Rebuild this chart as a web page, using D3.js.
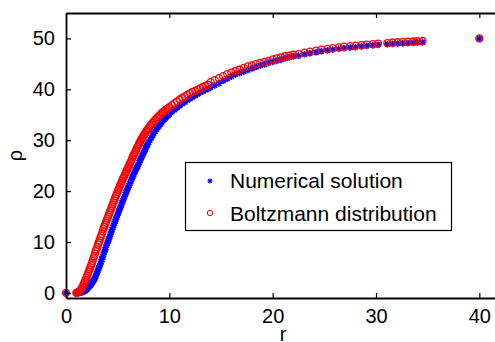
<!DOCTYPE html>
<html>
<head>
<meta charset="utf-8">
<script src="https://cdn.jsdelivr.net/npm/d3@7"></script>
<style>
  body { margin: 0; background: #fff; }
  svg { display: block; font-family: "Liberation Sans", Arial, sans-serif; }
</style>
</head>
<body>
<svg id="chart" width="495" height="342"></svg>
<script>
// radial positions (shared by both series)
const rValues = [
  0,
  1.0, 1.15, 1.3, 1.45, 1.6, 1.75, 1.9, 2.05, 2.2, 2.35, 2.5, 2.65, 2.8, 2.95,
  3.1, 3.25, 3.4, 3.55, 3.7, 3.85, 4.0, 4.15, 4.3, 4.45, 4.6, 4.75, 4.9, 5.05,
  5.2, 5.35, 5.5, 5.65, 5.8, 5.95, 6.1, 6.25, 6.4, 6.55, 6.7, 6.85, 7.0, 7.15,
  7.3, 7.45, 7.6, 7.75, 7.9, 8.0, 8.25, 8.5, 8.75, 9.0, 9.25, 9.5, 9.75, 10.0,
  10.25, 10.5, 10.75, 11.0, 11.25, 11.5, 11.75, 12.0, 12.25, 12.5, 12.75, 13.0,
  13.25, 13.5, 13.75, 14.0, 14.4, 14.8, 15.2, 15.6, 16.0, 16.4, 16.8, 17.2,
  17.6, 18.0, 18.4, 18.8, 19.2, 19.6, 20.0, 20.4, 20.8, 21.2, 21.6, 22.0,
  22.5, 23.1, 23.6, 24.2, 24.7, 25.3, 25.8, 26.4, 26.9, 27.5, 28.0, 28.6,
  29.1, 29.7, 30.2, 31.1, 31.6, 32.1, 32.6, 33.1, 33.6, 34.0, 34.5,
  40
];

// numerical solution (blue asterisks)
const rhoNumerical = [
  0,
  0.0, 0.0, 0.05, 0.1, 0.2, 0.35, 0.5, 0.8, 1.2, 1.5, 1.9, 2.4, 2.9, 3.7,
  4.5, 5.3, 6.1, 7.1, 8.0, 8.9, 9.8, 10.6, 11.5, 12.4, 13.3, 14.1, 14.9, 15.7,
  16.5, 17.3, 18.1, 18.9, 19.7, 20.4, 21.1, 21.9, 22.6, 23.3, 24.0, 24.6, 25.2, 26.0,
  26.6, 27.3, 27.9, 28.6, 29.2, 29.6, 30.5, 31.4, 32.1, 32.8, 33.5, 34.1, 34.6, 35.1,
  35.6, 36.0, 36.4, 36.8, 37.2, 37.5, 37.9, 38.2, 38.5, 38.8, 39.1, 39.4,
  39.6, 39.9, 40.1, 40.4, 40.8, 41.2, 41.7, 42.1, 42.5, 42.9, 43.2, 43.5,
  43.8, 44.1, 44.4, 44.7, 44.9, 45.2, 45.4, 45.6, 45.8, 46.1, 46.3, 46.5,
  46.6, 46.9, 47.1, 47.3, 47.5, 47.65, 47.8, 47.95, 48.1, 48.2, 48.3, 48.45,
  48.55, 48.65, 48.75, 48.9, 48.95, 49.0, 49.05, 49.1, 49.15, 49.2, 49.25,
  50
];

// Boltzmann distribution (red circles)
const rhoBoltzmann = [
  0,
  0.0, 0.1, 0.3, 0.65, 1.2, 1.9, 2.6, 3.4, 4.2, 5.0, 5.8, 6.8, 7.7, 8.6,
  9.5, 10.3, 11.2, 12.1, 13.0, 13.8, 14.6, 15.4, 16.2, 17.0, 17.8, 18.6, 19.4, 20.2,
  20.9, 21.6, 22.4, 23.0, 23.7, 24.4, 25.0, 25.7, 26.4, 27.1, 27.7, 28.4, 29.0, 29.6,
  30.2, 30.7, 31.2, 31.7, 32.1, 32.4, 33.1, 33.7, 34.3, 34.8, 35.3, 35.7, 36.1, 36.5,
  36.9, 37.3, 37.6, 38.0, 38.3, 38.6, 38.9, 39.2, 39.5, 39.7, 40.0, 40.2,
  40.5, 40.7, 40.9, 41.4, 41.8, 42.2, 42.6, 43.0, 43.3, 43.6, 43.9, 44.2,
  44.5, 44.7, 45.0, 45.2, 45.4, 45.6, 45.9, 46.1, 46.3, 46.5, 46.6, 46.8,
  46.9, 47.2, 47.4, 47.6, 47.8, 47.95, 48.1, 48.25, 48.4, 48.5, 48.6, 48.7,
  48.8, 48.9, 49.0, 49.1, 49.2, 49.25, 49.3, 49.35, 49.4, 49.45, 49.5,
  50
];

// extra samples in the dense, steep part of the profile
const rExtra = [
  1.075, 1.225, 1.375, 1.525, 1.675, 1.825, 1.975, 2.125, 2.275, 2.425, 2.575, 2.725,
  2.875, 3.025, 3.175, 3.325, 3.475, 3.625, 3.775, 3.925, 4.075, 4.225, 4.375, 4.525,
  4.675, 4.825, 4.975, 5.125, 5.275, 5.425, 5.575, 5.725, 5.875, 6.025, 6.175, 6.325,
  6.475, 6.625, 6.775, 6.925, 7.075, 7.225, 7.375, 7.525, 7.675, 7.825,
  8.125, 8.375, 8.625, 8.875, 9.125, 9.375, 9.625, 9.875
];
const rhoNumericalExtra = [
  0.0, 0.02, 0.08, 0.15, 0.27, 0.42, 0.65, 1.0, 1.35, 1.7, 2.15, 2.65,
  3.3, 4.1, 4.9, 5.7, 6.6, 7.55, 8.45, 9.35, 10.2, 11.05, 11.95, 12.85,
  13.7, 14.5, 15.3, 16.1, 16.9, 17.7, 18.5, 19.3, 20.05, 20.75, 21.5, 22.25,
  22.95, 23.65, 24.3, 24.9, 25.6, 26.3, 26.95, 27.6, 28.25, 28.9,
  30.05, 30.95, 31.75, 32.45, 33.15, 33.8, 34.35, 34.85
];
const rhoBoltzmannExtra = [
  0.05, 0.2, 0.45, 0.9, 1.55, 2.25, 3.0, 3.8, 4.6, 5.4, 6.3, 7.2,
  8.2, 9.0, 9.9, 10.8, 11.6, 12.6, 13.4, 14.2, 15.0, 15.8, 16.6, 17.4,
  18.2, 19.0, 19.8, 20.5, 21.3, 22.0, 22.7, 23.4, 24.0, 24.7, 25.4, 26.0,
  26.8, 27.4, 28.0, 28.7, 29.3, 29.9, 30.4, 31.0, 31.4, 31.9,
  32.8, 33.4, 34.0, 34.5, 35.0, 35.5, 35.9, 36.3
];

const xTicks = [0, 10, 20, 30, 40];
const yTicks = [0, 10, 20, 30, 40, 50];
const legendLabels = ['Numerical solution', 'Boltzmann distribution'];

const svg = d3.select('#chart');
const mLeft = 66, mRight = 500, mTop = 13, mBottom = 298;

const x = d3.scaleLinear().domain([0, 42]).range([mLeft, mRight]);
const y = d3.scaleLinear().domain([-1, 55]).range([mBottom, mTop]);

// asterisk path (MATLAB-like '*')
function asterisk(s) {
  const d = s * 0.72;
  return `M${-s},0L${s},0M0,${-s}L0,${s}M${-d},${-d}L${d},${d}M${-d},${d}L${d},${-d}`;
}

// data points
const allR = rValues.concat(rExtra);
const allNum = rhoNumerical.concat(rhoNumericalExtra);
const allBol = rhoBoltzmann.concat(rhoBoltzmannExtra);
const pts = allR.map((r, i) => ({ r, num: allNum[i], bol: allBol[i] }));

svg.append('g')
  .selectAll('path')
  .data(pts)
  .enter()
  .append('path')
  .attr('transform', d => `translate(${x(d.r)},${y(d.num)})`)
  .attr('d', asterisk(3.4))
  .attr('stroke', '#0000ff')
  .attr('stroke-width', 1.5)
  .attr('fill', 'none');

svg.append('g')
  .selectAll('circle')
  .data(pts)
  .enter()
  .append('circle')
  .attr('cx', d => x(d.r))
  .attr('cy', d => y(d.bol))
  .attr('r', 3.5)
  .attr('stroke', '#ff0000')
  .attr('stroke-width', 1.3)
  .attr('fill', 'none');

// axes with inward ticks
const styleAxis = g => {
  g.select('.domain').attr('stroke', '#000').attr('stroke-width', 1.8);
  g.selectAll('.tick line').attr('stroke', '#000').attr('stroke-width', 1.2);
  g.selectAll('.tick text').attr('fill', '#000').style('font-size', '20px');
};

svg.append('g')
  .attr('transform', `translate(0,${mBottom})`)
  .call(d3.axisBottom(x).tickValues(xTicks).tickSize(-5).tickSizeOuter(0).tickPadding(11))
  .call(styleAxis);

svg.append('g')
  .attr('transform', `translate(0,${mTop})`)
  .call(d3.axisTop(x).tickValues(xTicks).tickSize(-5).tickSizeOuter(0).tickFormat(''))
  .call(styleAxis);

svg.append('g')
  .attr('transform', `translate(${mLeft},0)`)
  .call(d3.axisLeft(y).tickValues(yTicks).tickSize(-5).tickSizeOuter(0).tickPadding(11))
  .call(styleAxis);

// axis labels
svg.append('text')
  .attr('x', (mLeft + mRight) / 2)
  .attr('y', 341)
  .attr('text-anchor', 'middle')
  .style('font-size', '20px')
  .text('r');

svg.append('text')
  .attr('transform', `translate(22,${(mTop + mBottom) / 2}) rotate(-90)`)
  .attr('text-anchor', 'middle')
  .style('font-size', '20px')
  .text('ρ');

// legend
const legend = svg.append('g');
legend.append('rect')
  .attr('x', 185.5).attr('y', 162.5)
  .attr('width', 266).attr('height', 68)
  .attr('fill', '#fff')
  .attr('stroke', '#000')
  .attr('stroke-width', 1.2);

legend.append('path')
  .attr('transform', 'translate(210,181)')
  .attr('d', asterisk(2.6))
  .attr('stroke', '#0000ff')
  .attr('stroke-width', 1.1)
  .attr('fill', 'none');

legend.append('circle')
  .attr('cx', 210).attr('cy', 213).attr('r', 2.7)
  .attr('stroke', '#ff0000')
  .attr('stroke-width', 1)
  .attr('fill', 'none');

legend.selectAll('text')
  .data(legendLabels)
  .enter()
  .append('text')
  .attr('x', 230)
  .attr('y', (d, i) => 187.5 + i * 33)
  .style('font-size', '21px')
  .text(d => d);
</script>
</body>
</html>
